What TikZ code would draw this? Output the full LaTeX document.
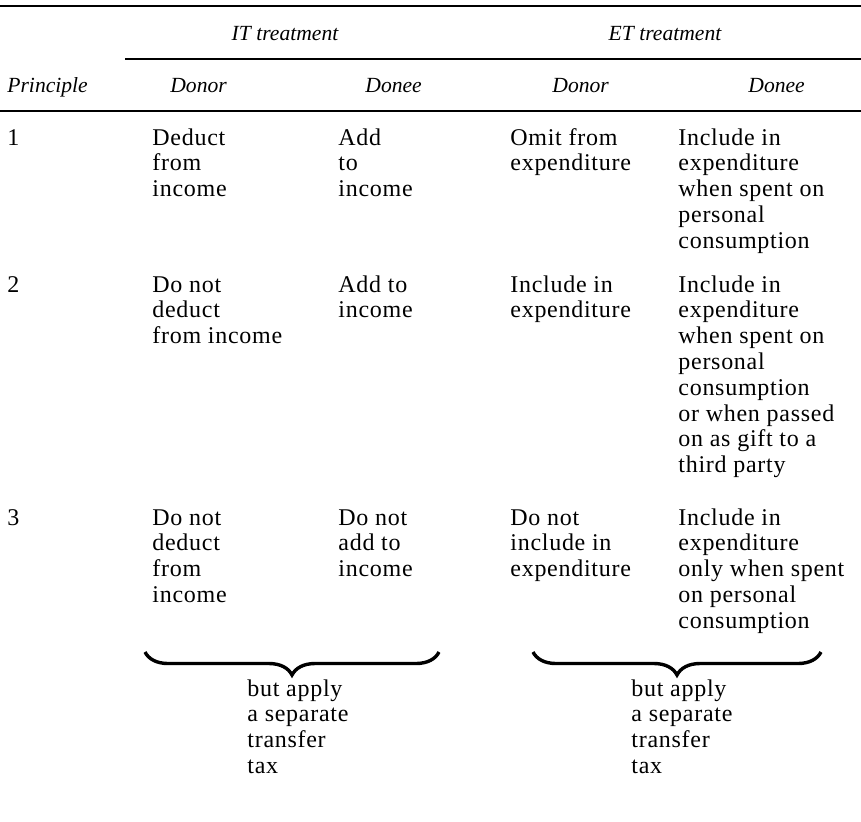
\documentclass[tikz,border=0pt]{standalone}
\usepackage{fontspec}
\setmainfont{Liberation Serif}[LetterSpace=3]
\newfontfamily\hdfont{Liberation Serif}
\usetikzlibrary{decorations.pathreplacing}
\newcommand{\lines}[1]{\begin{tabular}[t]{@{}l@{}}#1\end{tabular}}

\begin{document}
\begin{tikzpicture}[x=0.5pt,y=-0.5pt]
	\tikzset{cell/.style={anchor=base west, inner sep=0pt, font=\fontsize{12}{12.9}\selectfont}}
	\tikzset{head/.style={anchor=base west, inner sep=0pt, font=\hdfont\fontsize{10.8}{13}\selectfont\itshape}}
	\tikzset{rule/.style={line width=0.7pt}}
	\tikzset{curly/.style={decorate, decoration={brace, mirror, amplitude=11.5pt}, line width=1.7pt}}

	\useasboundingbox (0,0) rectangle (861,821);

	\coordinate (ta) at (0,6);   \coordinate (tb) at (861,6);
	\coordinate (ma) at (125,59); \coordinate (mb) at (861,59);
	\coordinate (ha) at (0,111); \coordinate (hb) at (861,111);
	\draw[rule] (ta) -- (tb);
	\draw[rule] (ma) -- (mb);
	\draw[rule] (ha) -- (hb);

	\node[head, anchor=base] (it) at (285,40) {IT treatment};
	\node[head, anchor=base] (et) at (665,40) {ET treatment};
	\node[head] (prin) at (7,92) {Principle};
	\node[head] (itdonor) at (170,92) {Donor};
	\node[head] (itdonee) at (365,92) {Donee};
	\node[head] (etdonor) at (552,92) {Donor};
	\node[head] (etdonee) at (748,92) {Donee};

	\node[cell] (p1) at (7,145) {1};
	\node[cell] (a1) at (152,145) {\lines{Deduct\\from\\income}};
	\node[cell] (b1) at (338,145) {\lines{Add\\to\\income}};
	\node[cell] (c1) at (510,145) {\lines{Omit from\\expenditure}};
	\node[cell] (d1) at (678,145) {\lines{Include in\\expenditure\\when spent on\\personal\\consumption}};

	\node[cell] (p2) at (7,292) {2};
	\node[cell] (a2) at (152,292) {\lines{Do not\\deduct\\from income}};
	\node[cell] (b2) at (338,292) {\lines{Add to\\income}};
	\node[cell] (c2) at (510,292) {\lines{Include in\\expenditure}};
	\node[cell] (d2) at (678,292) {\lines{Include in\\expenditure\\when spent on\\personal\\consumption\\or when passed\\on as gift to a\\third party}};

	\node[cell] (p3) at (7,525) {3};
	\node[cell] (a3) at (152,525) {\lines{Do not\\deduct\\from\\income}};
	\node[cell] (b3) at (338,525) {\lines{Do not\\add to\\income}};
	\node[cell] (c3) at (510,525) {\lines{Do not\\include in\\expenditure}};
	\node[cell] (d3) at (678,525) {\lines{Include in\\expenditure\\only when spent\\on personal\\consumption}};

	\coordinate (bl1) at (145,652); \coordinate (br1) at (439,652);
	\coordinate (bl2) at (533,652); \coordinate (br2) at (821,652);
	\draw[curly] (bl1) -- (br1);
	\draw[curly] (bl2) -- (br2);

	\node[cell] (tx1) at (247,696) {\lines{but apply\\a separate\\transfer\\tax}};
	\node[cell] (tx2) at (631,696) {\lines{but apply\\a separate\\transfer\\tax}};
\end{tikzpicture}
\end{document}
